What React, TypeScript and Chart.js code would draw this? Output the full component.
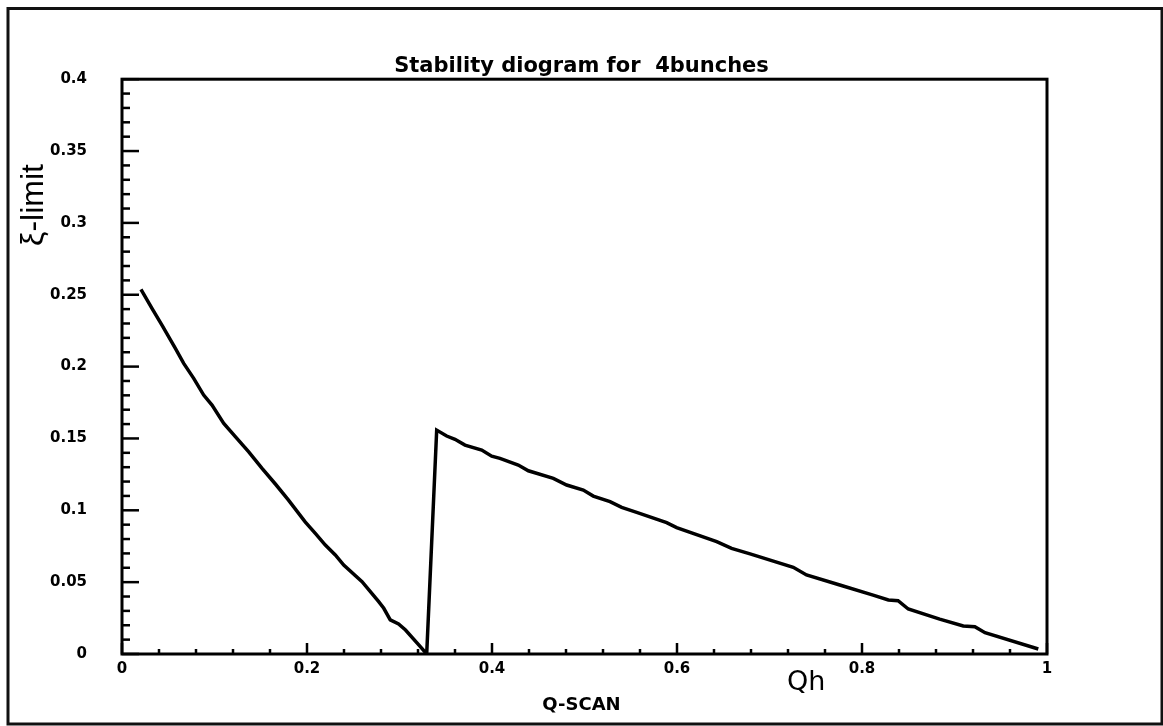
import React, { useEffect, useRef } from "react";
import { Chart, registerables } from "chart.js";

Chart.register(...registerables);

const qh = [
  0.0205, 0.0324, 0.0432, 0.0577, 0.0667, 0.0775, 0.0883, 0.0973, 0.11, 0.1225,
  0.137, 0.1514, 0.1658, 0.18, 0.198, 0.209, 0.2198, 0.2306, 0.2397, 0.2595,
  0.2775, 0.283, 0.29, 0.299, 0.3065, 0.3225, 0.3294, 0.3402, 0.351, 0.36,
  0.3708, 0.3889, 0.3997, 0.4086, 0.4284, 0.4393, 0.4663, 0.4807, 0.4987, 0.5095,
  0.5276, 0.5402, 0.5564, 0.5888, 0.5996, 0.6429, 0.659, 0.679, 0.7257, 0.74,
  0.776, 0.812, 0.8285, 0.839, 0.85, 0.884, 0.9095, 0.922, 0.933, 0.9906,
];
const xiLimit = [
  0.2537, 0.2405, 0.2289, 0.2127, 0.2022, 0.1918, 0.1802, 0.1732, 0.1605, 0.1512,
  0.1407, 0.1292, 0.1183, 0.1071, 0.092, 0.084, 0.0758, 0.0689, 0.0619, 0.0503,
  0.0364, 0.0318, 0.0237, 0.0209, 0.0167, 0.0051, 0.0, 0.1558, 0.1517, 0.1494,
  0.1454, 0.1419, 0.1377, 0.1361, 0.1315, 0.1275, 0.1222, 0.1176, 0.1141, 0.1099,
  0.106, 0.102, 0.0986, 0.0914, 0.0879, 0.0782, 0.0735, 0.0697, 0.0603, 0.055,
  0.048, 0.041, 0.0376, 0.0371, 0.0313, 0.0243, 0.0195, 0.019, 0.0148, 0.0035,
];

const xTickValues = [0, 0.2, 0.4, 0.6, 0.8, 1];
const xTickLabels = ["0", "0.2", "0.4", "0.6", "0.8", "1"];
const yTickValues = [0, 0.05, 0.1, 0.15, 0.2, 0.25, 0.3, 0.35, 0.4];
const yTickLabels = ["0", "0.05", "0.1", "0.15", "0.2", "0.25", "0.3", "0.35", "0.4"];
const xMinorStep = 0.04;
const yMinorStep = 0.01;

const titleText = "Stability diogram for  4bunches";
const scanText = "Q-SCAN";
const xAxisName = "Qh";
const yAxisName = "ξ-limit";

const decor = {
  id: "decor",
  afterDraw(chart: any) {
    const ctx = chart.ctx as CanvasRenderingContext2D;
    const { left, right, top, bottom } = chart.chartArea;
    const xs = chart.scales.x;
    const ys = chart.scales.y;
    ctx.save();
    ctx.strokeStyle = "#000";
    ctx.fillStyle = "#000";
    ctx.lineCap = "butt";

    // plot frame
    ctx.lineWidth = 3;
    ctx.strokeRect(left, top, right - left, bottom - top);

    // inward ticks
    ctx.lineWidth = 2.5;
    for (let i = 0; i <= 40; i++) {
      const v = i * yMinorStep;
      const py = ys.getPixelForValue(v);
      const len = i % 5 === 0 ? 17 : 8;
      ctx.beginPath();
      ctx.moveTo(left, py);
      ctx.lineTo(left + len, py);
      ctx.stroke();
    }
    for (let i = 0; i <= 25; i++) {
      const v = i * xMinorStep;
      const px = xs.getPixelForValue(v);
      const len = i % 5 === 0 ? 11 : 5;
      ctx.beginPath();
      ctx.moveTo(px, bottom);
      ctx.lineTo(px, bottom - len);
      ctx.stroke();
    }

    // axis names
    ctx.font = "27px 'DejaVu Sans'";
    ctx.textAlign = "left";
    ctx.textBaseline = "middle";
    ctx.fillText(xAxisName, 787, 683);

    ctx.save();
    ctx.translate(43, 205);
    ctx.rotate(-Math.PI / 2);
    ctx.font = "32px 'Liberation Sans'";
    ctx.textAlign = "center";
    ctx.textBaseline = "alphabetic";
    ctx.fillText(yAxisName, 0, 0);
    ctx.restore();

    // outer frame
    ctx.lineWidth = 3;
    ctx.strokeStyle = "#111";
    ctx.strokeRect(8, 8.5, 1154, 715.5);
    ctx.restore();
  },
};

export default function App() {
  const ref = useRef<HTMLCanvasElement | null>(null);
  useEffect(() => {
    if (!ref.current) return;
    const tickFont = { family: "'DejaVu Sans'", weight: "bold" as const, size: 15 };
    const chart = new Chart(ref.current, {
      type: "line",
      data: {
        datasets: [
          {
            data: qh.map((x, i) => ({ x, y: xiLimit[i] })),
            borderColor: "#000",
            borderWidth: 3.5,
            pointRadius: 0,
            tension: 0,
            fill: false,
          },
        ],
      },
      options: {
        animation: false,
        responsive: false,
        maintainAspectRatio: false,
        layout: { padding: 0 },
        plugins: {
          legend: { display: false },
          tooltip: { enabled: false },
          title: {
            display: true,
            text: titleText,
            color: "#000",
            font: { family: "'DejaVu Sans'", weight: "bold", size: 21, lineHeight: 1.2 },
            padding: { top: 54, bottom: 0 },
          },
          subtitle: {
            display: true,
            position: "bottom",
            text: scanText,
            color: "#000",
            font: { family: "'DejaVu Sans'", weight: "bold", size: 18, lineHeight: 1.2 },
            padding: { top: 0.2, bottom: 10.2 },
          },
        },
        scales: {
          x: {
            type: "linear",
            min: 0,
            max: 1,
            grid: { display: false, drawTicks: false },
            border: { display: false },
            afterBuildTicks: (s: any) => {
              s.ticks = xTickValues.map((v) => ({ value: v }));
            },
            afterFit: (s: any) => {
              s.height = 40;
            },
            ticks: {
              autoSkip: false,
              maxRotation: 0,
              padding: 6,
              color: "#000",
              font: tickFont,
              callback: (_v: any, i: number) => xTickLabels[i],
            },
          },
          y: {
            type: "linear",
            min: 0,
            max: 0.4,
            grid: { display: false, drawTicks: false },
            border: { display: false },
            afterBuildTicks: (s: any) => {
              s.ticks = yTickValues.map((v) => ({ value: v }));
            },
            afterFit: (s: any) => {
              s.width = 122;
            },
            ticks: {
              autoSkip: false,
              padding: 35,
              color: "#000",
              font: tickFont,
              callback: (_v: any, i: number) => yTickLabels[i],
            },
          },
          y2: {
            type: "linear",
            position: "right",
            display: true,
            grid: { display: false, drawTicks: false },
            border: { display: false },
            ticks: { display: false },
            afterFit: (s: any) => {
              s.width = 116;
            },
          },
        },
      },
      plugins: [decor],
    });
    return () => chart.destroy();
  }, []);
  return (
    <div style={{ position: "absolute", left: 0, top: 0, width: 1163, height: 726, background: "#fff" }}>
      <canvas ref={ref} width={1163} height={726} style={{ display: "block" }} />
    </div>
  );
}
